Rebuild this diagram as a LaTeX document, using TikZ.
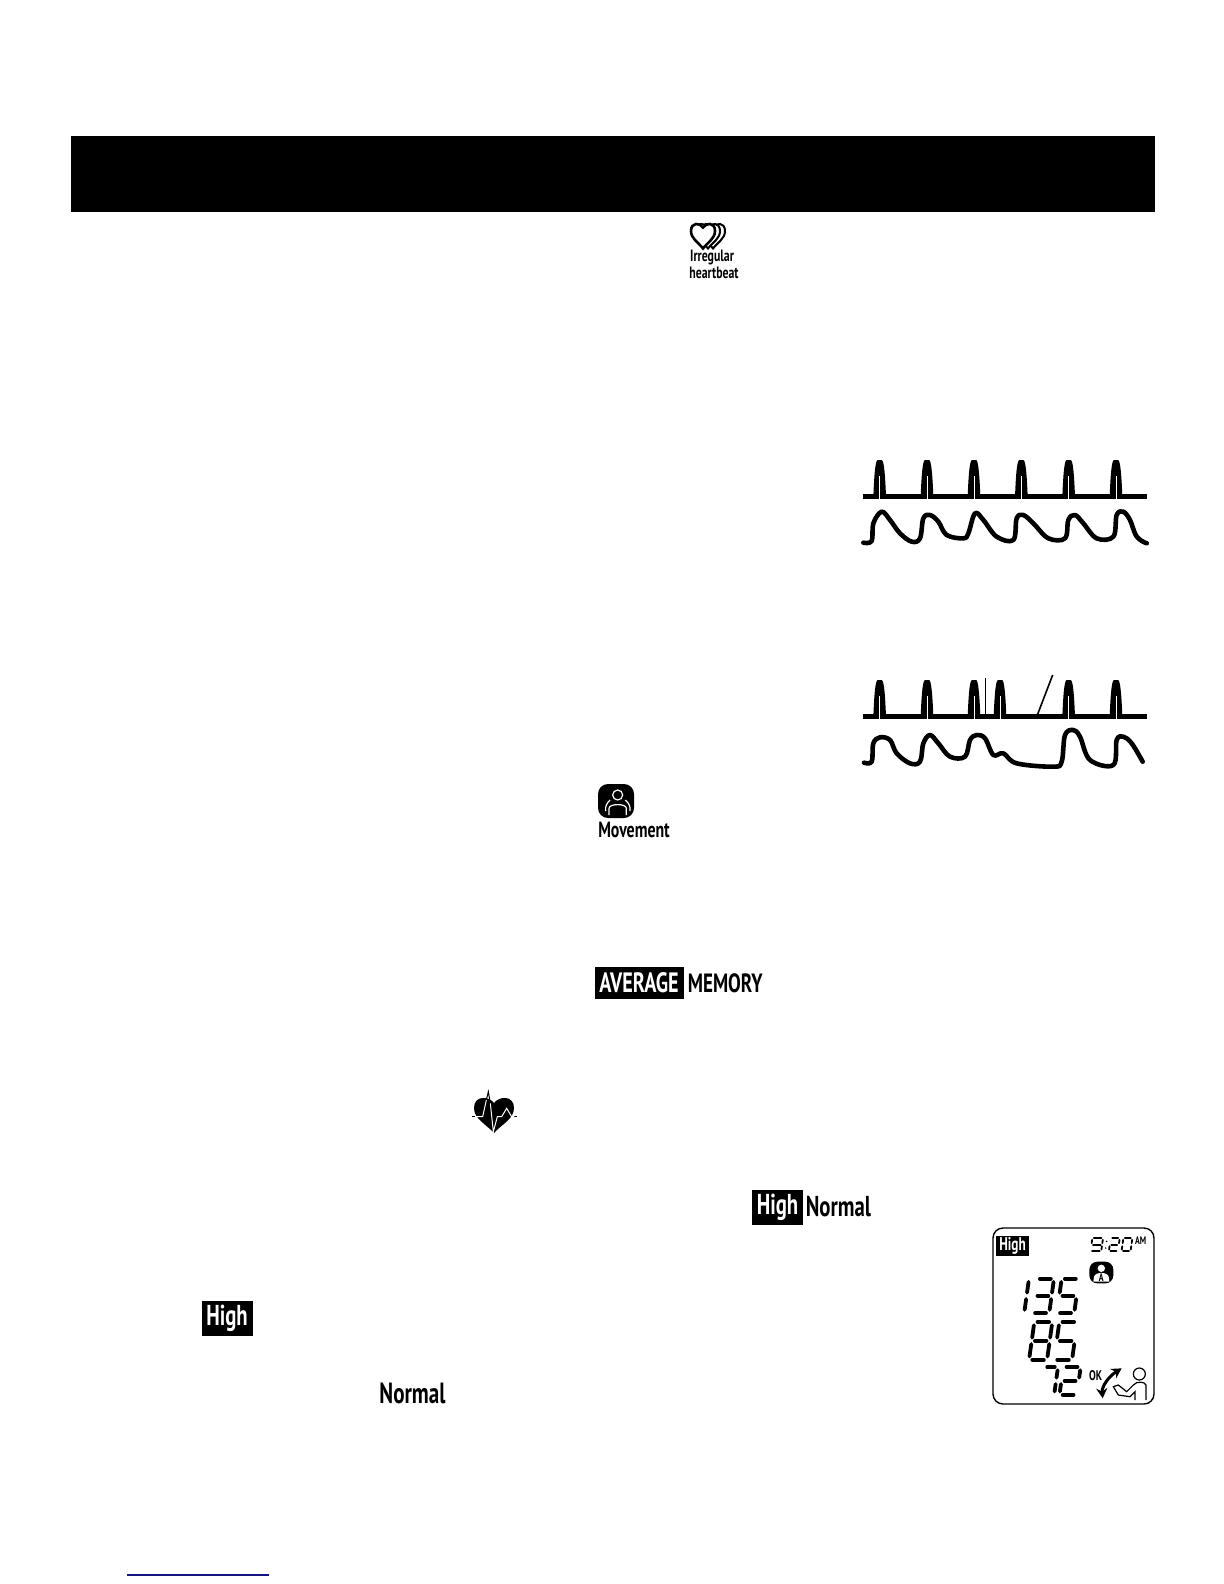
\documentclass[tikz,border=0pt]{standalone}
\usepackage{fontspec}
\usetikzlibrary{calc, positioning, arrows.meta}
\newfontfamily\din[FakeStretch=0.72]{PT Sans}

% one spike of the pulse line, drawn in zoomed units
\tikzset{
    spike/.pic={
        \fill (-19,170) .. controls (-17,120) and (-14,60) .. (-6,60) -- (6,60) .. controls (14,60) and (17,120) .. (19,170) -- cycle;
        \draw[white, line width=0.3pt] (0,108) -- (0,178);
    },
    heartshape/.pic={
        \path[pic actions] (0,-.5) .. controls (-.25,-.85) and (-1,-.9) .. (-1,-.25) .. controls (-1,.3) and (-.4,.55) .. (0,1) .. controls (.4,.55) and (1,.3) .. (1,-.25) .. controls (1,-.9) and (.25,-.85) .. (0,-.5) -- cycle;
    },
    pulseline/.style={line width=2.2pt},
    wave/.style={line width=2.3pt, line cap=round, line join=round},
    label/.style={font=\din\bfseries, inner sep=0pt},
    badge/.style={label, fill=black, text=white, minimum height=17.5pt}
}

% segments of the display digits
\def\digitone{TR/MR,MR/BR}
\def\digittwo{TL/TR,TR/MR,ML/MR,ML/BL,BL/BR}
\def\digitthree{TL/TR,TR/MR,ML/MR,MR/BR,BL/BR}
\def\digitfive{TL/TR,TL/ML,ML/MR,MR/BR,BL/BR}
\def\digitseven{TL/TR,TR/MR,MR/BR}
\def\digiteight{TL/TR,TL/ML,TR/MR,ML/MR,ML/BL,MR/BR,BL/BR}
\def\digitnine{TL/TR,TL/ML,TR/MR,ML/MR,MR/BR,BL/BR}
\def\digitzero{TL/TR,TL/ML,TR/MR,ML/BL,MR/BR,BL/BR}

% x, y, width, height, line width, segments
\newcommand{\lcddigit}[6]{
    \begin{scope}[shift={(#1,#2)}, xslant=.14]
        \coordinate (TL) at (0,0);
        \coordinate (TR) at (#3,0);
        \coordinate (ML) at (0,#4/2);
        \coordinate (MR) at (#3,#4/2);
        \coordinate (BL) at (0,#4);
        \coordinate (BR) at (#3,#4);
        \foreach \a/\b in #6
            \draw[line width=#5, line cap=round, shorten >=#5*.85, shorten <=#5*.85] (\a) -- (\b);
    \end{scope}
}

\begin{document}
\begin{tikzpicture}[x=0.5pt, y=-0.5pt]

    \useasboundingbox (0,0) rectangle (1224,1584);

    % title band
    \fill (71,136) rectangle (1155,212);

    % irregular heartbeat mark
    \pic[draw, fill=white, line width=1pt, xscale=12, yscale=14] at (713,234.5) {heartshape};
    \pic[draw, fill=white, line width=1pt, xscale=12, yscale=14] at (708,234.5) {heartshape};
    \pic[draw, fill=white, line width=1.3pt, xscale=12, yscale=14] at (703,234.5) {heartshape};
    \node[label, font=\din\bfseries\fontsize{8.2}{8.2}\selectfont] (irregular) at (712,257) {Irregular};
    \node[label, font=\din\bfseries\fontsize{8.2}{8.2}\selectfont] (heartbeat) at (714,272.5) {heartbeat};

    % regular pulse
    \begin{scope}[shift={(840,440)}, scale=1/3]
        \draw[pulseline] (68,170) -- (922,170);
        \foreach \i in {119,261,402,544,686,828}
            \pic[transform shape] at (\i,0) {spike};
        \draw[wave] plot[smooth, tension=.6] coordinates {(70,308) (95,303) (100,250) (125,215) (150,240) (180,280) (215,305) (240,295) (250,235) (270,225) (295,245) (320,285) (370,295) (385,280) (405,220) (430,240) (470,290) (520,300) (530,235) (550,225) (580,250) (625,295) (675,295) (685,240) (705,225) (730,250) (770,295) (820,290) (830,225) (850,215) (870,240) (890,290) (920,310)};
    \end{scope}

    % irregular pulse
    \begin{scope}[shift={(840,660)}, scale=1/3]
        \draw[pulseline] (68,170) -- (922,170);
        \foreach \i in {119,261,402,480,686,828}
            \pic[transform shape] at (\i,0) {spike};
        \draw[line width=0.7pt] (437,55) -- (437,170);
        \draw[line width=0.8pt] (592,165) -- (638,45);
        \draw[wave] plot[smooth, tension=.6] coordinates {(72,308) (95,305) (100,250) (120,232) (150,240) (170,280) (210,310) (240,305) (250,250) (270,225) (295,250) (330,290) (375,290) (390,240) (410,225) (435,235) (460,285) (490,280) (530,310) (640,320) (665,305) (675,225) (700,210) (720,230) (750,300) (820,315) (830,240) (850,230) (875,250) (908,305)};
    \end{scope}

    % movement mark
    \fill[rounded corners=5pt] (598,784) rectangle (634,818);
    \begin{scope}[shift={(585,775)}, scale=1/3, white, line width=0.6pt]
        \draw (98,60) circle (15);
        \draw (72,120) -- (72,100) .. controls (72,85) and (124,85) .. (124,100) -- (124,120);
        \draw (62,108) .. controls (60,95) and (65,85) .. (75,75);
        \draw (135,108) .. controls (137,95) and (132,85) .. (121,75);
    \end{scope}
    \node[label, font=\din\bfseries\fontsize{11}{11}\selectfont] (movement) at (634,830) {Movement};

    % average memory
    \node[badge, font=\din\bfseries\fontsize{14}{14}\selectfont, minimum width=44.5pt, minimum height=16pt] (average) at (639,983) {AVERAGE};
    \node[label, font=\din\bfseries\fontsize{13.2}{13.2}\selectfont, right=1.8pt of average] (memory) {MEMORY};

    % heart mark
    \pic[fill=black, scale=20] at (494,1113) {heartshape};
    \begin{scope}[shift={(460,1080)}, scale=1/3, line width=0.5pt]
        \draw (35,110) -- (45,110);
        \draw (163,110) -- (172,110);
        \draw (79,60) -- (85,35) -- (91,70);
        \draw[white] (45,110) -- (68,110) -- (79,60);
        \draw[white] (91,70) -- (100,155) -- (112,110) -- (125,110) -- (140,85) -- (155,110) -- (163,110);
    \end{scope}

    % category words
    \node[badge, font=\din\bfseries\fontsize{14.4}{14.4}\selectfont, minimum width=25.5pt] (highright) at (777.5,1207) {High};
    \node[label, font=\din\bfseries\fontsize{14.4}{14.4}\selectfont, right=1pt of highright] (normalright) {Normal};
    \node[badge, font=\din\bfseries\fontsize{14.4}{14.4}\selectfont, minimum width=25.5pt] (highleft) at (227,1318.5) {High};
    \node[label, font=\din\bfseries\fontsize{14.6}{14.6}\selectfont] (normalleft) at (412.5,1393) {Normal};

    % display
    \draw[line width=0.7pt, rounded corners=5pt] (993,1228) rectangle (1154,1404);
    \begin{scope}[shift={(980,1220)}, scale=1/3]
        \node[badge, font=\din\bfseries\fontsize{9.2}{9.2}\selectfont, minimum width=16.5pt, minimum height=10pt] (highlcd) at (97.5,77.5) {High};

        % time
        \lcddigit{337}{55}{32}{38}{0.9pt}{\digitnine}
        \lcddigit{392}{55}{27}{38}{0.9pt}{\digittwo}
        \lcddigit{430}{55}{27}{38}{0.9pt}{\digitzero}
        \fill (380,64) circle (2.5);
        \fill (377,84) circle (2.5);
        \node[label, font=\din\bfseries\fontsize{5.5}{5.5}\selectfont] (am) at (482,62) {AM};

        % user badge
        \fill[rounded corners=4pt] (328,125) rectangle (400,190);
        \fill[white] (364,145) circle (11);
        \fill[white] (340,185) -- (342,170) .. controls (345,155) and (383,155) .. (386,170) -- (388,185) -- cycle;
        \node[label, font=\din\bfseries\fontsize{5.5}{5.5}\selectfont] (usera) at (364,173) {A};

        % readings
        \lcddigit{107}{176}{40}{103}{1.9pt}{\digitone}
        \lcddigit{170}{176}{52}{103}{1.9pt}{\digitthree}
        \lcddigit{245}{176}{52}{103}{1.9pt}{\digitfive}
        \lcddigit{163}{306}{54}{113}{1.9pt}{\digiteight}
        \lcddigit{238}{306}{54}{113}{1.9pt}{\digitfive}
        \lcddigit{192}{441}{42}{83}{1.9pt}{\digitseven}
        \lcddigit{250}{441}{52}{83}{1.9pt}{\digittwo}

        % ok mark
        \node[label, font=\din\bfseries\fontsize{7}{7}\selectfont] (okmark) at (347,468) {OK};
        \draw[{Stealth[length=5pt,width=5.5pt]}-{Stealth[length=5pt,width=5.5pt]}, line width=1.5pt] (368,535) .. controls (365,500) and (385,470) .. (425,445);
        \draw[line width=0.6pt] (478,462) circle (18);
        \draw[line width=0.6pt] (498,540) -- (498,495) .. controls (495,485) and (470,482) .. (460,495) -- (440,515) -- (415,495) -- (400,500) -- (415,525) -- (450,530) -- (465,515) -- (465,540);
    \end{scope}

    % link underline
    \draw[color={rgb,255:red,20;green,20;blue,130}, line width=0.7pt] (127,1575) -- (269,1575);

\end{tikzpicture}
\end{document}
